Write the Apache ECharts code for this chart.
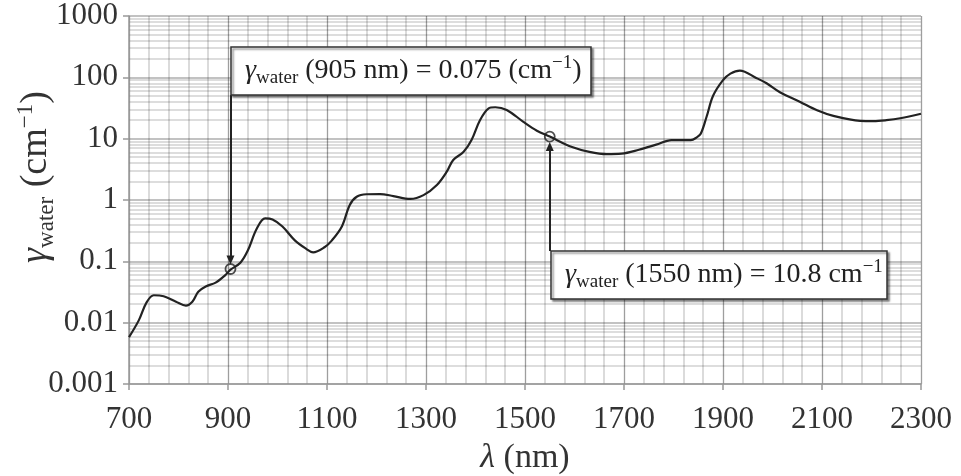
<!DOCTYPE html>
<html>
<head>
<meta charset="utf-8">
<script src="https://cdn.jsdelivr.net/npm/echarts@6/dist/echarts.min.js"></script>
<style>
  html, body { margin: 0; background: #fff; }
  #chart { width: 961px; height: 476px; }
</style>
</head>
<body>
<div id="chart"></div>
<script>
// x axis is offset so its ticks (every 200 nm) start at 700
const X0 = 700

const wavelength = [700, 720, 735, 750, 770, 795, 815, 828, 840, 855, 875, 895, 905, 925, 940, 958, 975, 990,
  1010, 1035, 1058, 1072, 1095, 1110, 1130, 1146, 1160, 1180, 1207, 1234, 1268, 1295, 1322, 1342, 1355, 1376,
  1392, 1409, 1426, 1440, 1463, 1496, 1524, 1550, 1595, 1630, 1665, 1695, 1730, 1765, 1796, 1835, 1847, 1855,
  1867, 1880, 1900, 1915, 1934, 1968, 1988, 2015, 2055, 2090, 2123, 2177, 2204, 2230, 2258, 2300]
const gamma = [0.0058, 0.011, 0.021, 0.028, 0.027, 0.022, 0.019, 0.022, 0.032, 0.039, 0.045, 0.060, 0.073, 0.095,
  0.15, 0.34, 0.50, 0.48, 0.37, 0.22, 0.16, 0.14, 0.17, 0.22, 0.37, 0.83, 1.13, 1.24, 1.25, 1.16, 1.04, 1.2,
  1.76, 2.9, 4.5, 6.1, 9.5, 20, 31, 32.5, 29.4, 19, 13.5, 10.8, 7.3, 6.1, 5.6, 5.7, 6.6, 8.0, 9.5, 9.5, 10.5, 12,
  23, 50, 90, 115, 129, 97, 80, 57, 40, 29, 23.5, 19.5, 19.3, 20, 21.5, 25.5]

const xTickLabels = ['700', '900', '1100', '1300', '1500', '1700', '1900', '2100', '2300']
const yTickLabels = ['0.001', '0.01', '0.1', '1', '10', '100', '1000']
const yDecades = [0.001, 0.01, 0.1, 1, 10, 100]
const yMinorSteps = [2, 3, 4, 5, 6, 7, 8, 9]

// marked points and arrow ends (arrow starts at the box edge)
const markX = [905, 1550]
const markY = [0.075, 10.8]
const arrowFrom = [51.6, 0.147]
const arrowTo = [0.105, 7.46]

const chart = echarts.init(document.getElementById('chart'))

const FONT = 'Liberation Serif'
const curve = wavelength.map((w, i) => [w - X0, gamma[i]])
const minorY = []
yDecades.forEach(d => yMinorSteps.forEach(s => minorY.push({ yAxis: d * s })))

function boxText(sub, rest, sup, tail) {
  return '{g|γ}{s|' + sub + '}{n|' + rest + '}' + (sup ? '{p|' + sup + '}' : '') + (tail ? '{n|' + tail + '}' : '')
}
const richAnn = {
  g: { fontFamily: FONT, fontSize: 28, fontStyle: 'italic', fill: '#222', lineHeight: 34 },
  n: { fontFamily: FONT, fontSize: 28, fill: '#222', lineHeight: 34 },
  s: { fontFamily: FONT, fontSize: 19, fill: '#222', verticalAlign: 'bottom', lineHeight: 34 },
  p: { fontFamily: FONT, fontSize: 19, fill: '#222', verticalAlign: 'top', lineHeight: 34 }
}
const boxStyle = {
  fill: '#fff', stroke: '#333', lineWidth: 1.5,
  shadowColor: 'rgba(0,0,0,0.45)', shadowBlur: 2, shadowOffsetX: 2, shadowOffsetY: 2
}

chart.setOption({
  animation: false,
  grid: { left: 129, right: 40, top: 16, bottom: 92, outerBoundsMode: 'none' },
  xAxis: {
    type: 'value', min: 0, max: 1600, interval: 200, z: 1,
    axisLine: { onZero: false, lineStyle: { color: '#999', width: 1.5 } },
    axisTick: { show: true, length: 6, lineStyle: { color: '#999', width: 1.5 } },
    axisLabel: {
      margin: 20, fontFamily: FONT, fontSize: 31, color: '#333',
      formatter: v => xTickLabels[Math.round(v / 200)]
    },
    splitLine: { show: true, lineStyle: { color: 'rgba(0,0,0,0.38)', width: 1.3 } },
    minorTick: { show: false, splitNumber: 5 },
    minorSplitLine: { show: true, lineStyle: { color: 'rgba(0,0,0,0.18)', width: 1.6 } },
    name: '{l|λ} (nm)', nameLocation: 'middle', nameGap: 57,
    nameTextStyle: {
      fontFamily: FONT, fontSize: 34, color: '#333',
      rich: { l: { fontFamily: FONT, fontSize: 34, fontStyle: 'italic', color: '#333' } }
    }
  },
  yAxis: {
    type: 'log', logBase: 10, min: 0.001, max: 1000, interval: 1, z: 1,
    axisLine: { show: true, onZero: false, lineStyle: { color: '#999', width: 1.5 } },
    axisTick: { show: true, length: 6, lineStyle: { color: '#999', width: 1.5 } },
    axisLabel: {
      margin: 11, fontFamily: FONT, fontSize: 31, color: '#333',
      formatter: v => yTickLabels[Math.round(Math.log10(v)) + 3]
    },
    splitLine: { show: true, lineStyle: { color: 'rgba(0,0,0,0.32)', width: 1.6 } }
  },
  graphic: [
    {
      type: 'text', x: 36, y: 177, rotation: Math.PI / 2, z: 10,
      style: {
        text: '{g|γ}{s|water}{n| (cm}{p|−1}{n|)}',
        align: 'center', verticalAlign: 'middle',
        rich: {
          g: { fontFamily: FONT, fontSize: 38, fontStyle: 'italic', fill: '#333', lineHeight: 44 },
          n: { fontFamily: FONT, fontSize: 38, fill: '#333', lineHeight: 44 },
          s: { fontFamily: FONT, fontSize: 23, fill: '#333', verticalAlign: 'bottom', lineHeight: 44 },
          p: { fontFamily: FONT, fontSize: 23, fill: '#333', verticalAlign: 'top', lineHeight: 44 }
        }
      }
    },
    { type: 'rect', z: 10, shape: { x: 231, y: 47, width: 360, height: 48 }, style: boxStyle },
    {
      type: 'text', z: 11, x: 245, y: 71,
      style: { text: boxText('water', ' (905 nm) = 0.075 (cm', '−1', ')'), verticalAlign: 'middle', rich: richAnn }
    },
    { type: 'rect', z: 10, shape: { x: 551, y: 251, width: 336, height: 48 }, style: boxStyle },
    {
      type: 'text', z: 11, x: 565, y: 275,
      style: { text: boxText('water', ' (1550 nm) = 10.8 cm', '−1', ''), verticalAlign: 'middle', rich: richAnn }
    }
  ],
  series: [
    {
      name: 'minor grid', type: 'line', data: [], silent: true, z: 0,
      markLine: {
        silent: true, z: 0, precision: 6, symbol: 'none', label: { show: false },
        lineStyle: { color: 'rgba(0,0,0,0.18)', width: 1.6, type: 'solid' },
        data: minorY
      }
    },
    {
      name: 'water', type: 'line', data: curve, smooth: 0.35, showSymbol: false, z: 3,
      lineStyle: { color: '#222', width: 2.2 }
    },
    {
      name: 'marks', type: 'scatter', z: 4,
      data: markX.map((x, i) => [x - X0, markY[i]]),
      symbol: 'circle', symbolSize: 10,
      itemStyle: { color: 'rgba(0,0,0,0)', borderColor: '#222', borderWidth: 1.8 },
      markLine: {
        silent: true, z: 4, precision: 6, symbol: ['none', 'triangle'], symbolSize: [8, 9],
        label: { show: false },
        lineStyle: { color: '#222', width: 2, type: 'solid' },
        data: markX.map((x, i) => [
          { coord: [x - X0, arrowFrom[i]] },
          { coord: [x - X0, arrowTo[i]] }
        ])
      }
    }
  ]
})
</script>
</body>
</html>
